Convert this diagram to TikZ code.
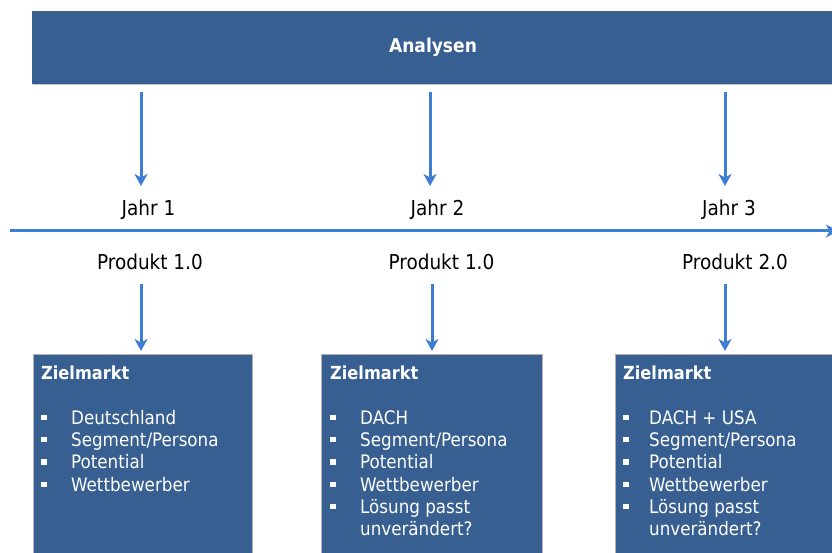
\documentclass[tikz,border=0pt]{standalone}
\usepackage{fontspec}
\setmainfont{DejaVu Sans Condensed}
\usetikzlibrary{arrows.meta}
\definecolor{barblue}{HTML}{375F91}
\definecolor{arrblue}{HTML}{3D7ED3}
\newcommand{\blt}[1]{\makebox[#1][l]{\raisebox{4pt}{\rule{5.5pt}{5.5pt}}}}
\tikzset{
  bar/.style={fill=barblue, draw=none},
  arr/.style={draw=arrblue, line width=3pt, -{Stealth[length=12pt,width=13pt,inset=3.5pt]}},
  lbl/.style={font=\fontsize{20.5}{24}\selectfont, inner sep=0pt},
  boxtext/.style={anchor=north west, text=white, align=left, inner sep=0pt, font=\fontsize{18.6}{22.3}\selectfont}
}
\begin{document}
\begin{tikzpicture}[x=1pt,y=-1pt]
\useasboundingbox (0,0) rectangle (832,553);
% top bar
\fill[gray!45] (33,12) rectangle (840,85.5);
\node[bar, anchor=north west, minimum width=810pt, minimum height=73pt, inner sep=0pt] (ana) at (32,11) {};
\node[text=white, font=\fontsize{19}{22}\selectfont\bfseries, inner sep=0pt] (anat) at (433,47) {Analysen};
% timeline
\coordinate (tl0) at (10,231);
\coordinate (tl1) at (838,231);
\draw[arr] (tl0) -- (tl1);
% year labels
\node[lbl] (j1) at (148.5,210) {Jahr 1};
\node[lbl] (j2) at (437.5,210) {Jahr 2};
\node[lbl] (j3) at (729,210) {Jahr 3};
\node[lbl] (p1) at (150,262) {Produkt 1.0};
\node[lbl] (p2) at (441.5,262) {Produkt 1.0};
\node[lbl] (p3) at (735,262) {Produkt 2.0};
% arrow endpoints
\coordinate (a1s) at (141,92); \coordinate (a1e) at (141,186);
\coordinate (a2s) at (430,92); \coordinate (a2e) at (430,186);
\coordinate (a3s) at (725,92); \coordinate (a3e) at (725,186);
\coordinate (b1s) at (141,284); \coordinate (b1e) at (141,351);
\coordinate (b2s) at (432,284); \coordinate (b2e) at (432,351);
\coordinate (b3s) at (725,284); \coordinate (b3e) at (725,351);
\draw[arr] (a1s) -- (a1e);
\draw[arr] (a2s) -- (a2e);
\draw[arr] (a3s) -- (a3e);
\draw[arr] (b1s) -- (b1e);
\draw[arr] (b2s) -- (b2e);
\draw[arr] (b3s) -- (b3e);
% boxes
\node[bar, draw=gray!60, line width=0.6pt, anchor=north west, minimum width=219pt, minimum height=230pt, inner sep=0pt] (z1) at (33,354) {};
\node[bar, draw=gray!60, line width=0.6pt, anchor=north west, minimum width=221pt, minimum height=230pt, inner sep=0pt] (z2) at (321,354) {};
\node[bar, draw=gray!60, line width=0.6pt, anchor=north west, minimum width=240pt, minimum height=230pt, inner sep=0pt] (z3) at (615,354) {};
\node[boxtext] (t1) at (41,366) {{\fontsize{18}{22.3}\selectfont\textbf{Zielmarkt}}\\[22pt]
\blt{30pt}Deutschland\\
\blt{30pt}Segment/Persona\\
\blt{30pt}Potential\\
\blt{30pt}Wettbewerber};
\node[boxtext] (t2) at (330,366) {{\fontsize{18}{22.3}\selectfont\textbf{Zielmarkt}}\\[22pt]
\blt{30pt}DACH\\
\blt{30pt}Segment/Persona\\
\blt{30pt}Potential\\
\blt{30pt}Wettbewerber\\
\blt{30pt}Lösung passt\\
\hspace*{30pt}unverändert?};
\node[boxtext] (t3) at (623,366) {{\fontsize{18}{22.3}\selectfont\textbf{Zielmarkt}}\\[22pt]
\blt{26pt}DACH + USA\\
\blt{26pt}Segment/Persona\\
\blt{26pt}Potential\\
\blt{26pt}Wettbewerber\\
\blt{26pt}Lösung passt\\
\hspace*{26pt}unverändert?};
\end{tikzpicture}
\end{document}
